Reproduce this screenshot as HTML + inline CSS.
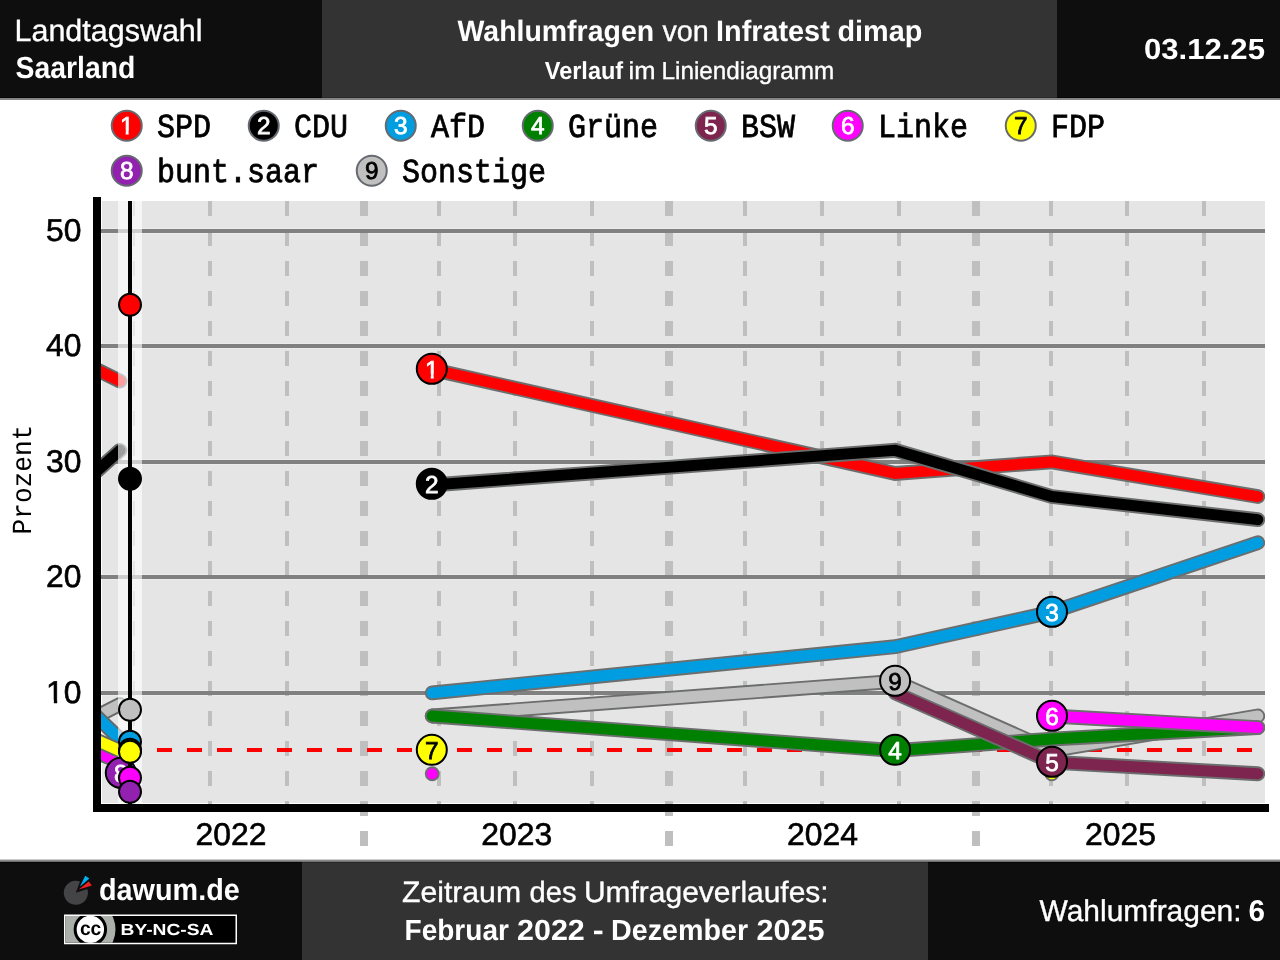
<!DOCTYPE html>
<html lang="de"><head><meta charset="utf-8"><title>Wahlumfragen Saarland - Infratest dimap</title>
<style>
html,body{margin:0;padding:0;background:#fff;width:1280px;height:960px;overflow:hidden;font-family:"Liberation Sans",sans-serif;}
svg{will-change:transform;display:block;position:absolute;left:0;top:0}
svg text{text-rendering:geometricPrecision}
</style></head><body>
<svg width="1280" height="960" viewBox="0 0 1280 960" role="img" aria-label="Wahlumfragen Saarland Infratest dimap Liniendiagramm">
<rect x="0" y="0" width="1280" height="960" fill="#ffffff"/>
<rect x="0" y="0" width="322" height="98" fill="#0e0e0e"/>
<rect x="322" y="0" width="735" height="98" fill="#333333"/>
<rect x="1057" y="0" width="223" height="98" fill="#0e0e0e"/>
<rect x="0" y="97" width="322" height="1" fill="#050505"/>
<rect x="322" y="97" width="735" height="1" fill="#2a2a2a"/>
<rect x="1057" y="97" width="223" height="1" fill="#050505"/>
<rect x="0" y="98" width="1280" height="2" fill="#858585"/>
<rect x="0" y="859" width="1280" height="1" fill="#cdcdcd"/>
<rect x="0" y="860" width="1280" height="1" fill="#8a8a8a"/>
<rect x="0" y="861" width="1280" height="1" fill="#727272"/>
<rect x="0" y="862" width="302" height="98" fill="#0e0e0e"/>
<rect x="302" y="862" width="626" height="98" fill="#333333"/>
<rect x="928" y="862" width="352" height="98" fill="#0e0e0e"/>
<rect x="0" y="862" width="302" height="1" fill="#050505"/>
<rect x="302" y="862" width="626" height="1" fill="#2a2a2a"/>
<rect x="928" y="862" width="352" height="1" fill="#050505"/>
<rect x="102" y="201" width="1163" height="602" fill="#e5e5e5"/>
<rect x="102" y="228" width="1163" height="6" fill="#ebebeb"/>
<rect x="102" y="343" width="1163" height="6" fill="#ebebeb"/>
<rect x="102" y="459" width="1163" height="6" fill="#ebebeb"/>
<rect x="102" y="574" width="1163" height="6" fill="#ebebeb"/>
<rect x="102" y="690" width="1163" height="6" fill="#ebebeb"/>
<line x1="134" y1="201" x2="134" y2="804" stroke="#bfbfbf" stroke-width="2" stroke-dasharray="15 15"/>
<line x1="210" y1="201" x2="210" y2="804" stroke="#bfbfbf" stroke-width="4" stroke-dasharray="15 15"/>
<line x1="287" y1="201" x2="287" y2="804" stroke="#bfbfbf" stroke-width="4" stroke-dasharray="15 15"/>
<line x1="439" y1="201" x2="439" y2="804" stroke="#bfbfbf" stroke-width="4" stroke-dasharray="15 15"/>
<line x1="515" y1="201" x2="515" y2="804" stroke="#bfbfbf" stroke-width="4" stroke-dasharray="15 15"/>
<line x1="592" y1="201" x2="592" y2="804" stroke="#bfbfbf" stroke-width="4" stroke-dasharray="15 15"/>
<line x1="745" y1="201" x2="745" y2="804" stroke="#bfbfbf" stroke-width="4" stroke-dasharray="15 15"/>
<line x1="822" y1="201" x2="822" y2="804" stroke="#bfbfbf" stroke-width="4" stroke-dasharray="15 15"/>
<line x1="899" y1="201" x2="899" y2="804" stroke="#bfbfbf" stroke-width="4" stroke-dasharray="15 15"/>
<line x1="1051" y1="201" x2="1051" y2="804" stroke="#bfbfbf" stroke-width="4" stroke-dasharray="15 15"/>
<line x1="1127" y1="201" x2="1127" y2="804" stroke="#bfbfbf" stroke-width="4" stroke-dasharray="15 15"/>
<line x1="1204" y1="201" x2="1204" y2="804" stroke="#bfbfbf" stroke-width="4" stroke-dasharray="15 15"/>
<line x1="364" y1="201" x2="364" y2="846" stroke="#bfbfbf" stroke-width="8" stroke-dasharray="15 15"/>
<line x1="669" y1="201" x2="669" y2="846" stroke="#bfbfbf" stroke-width="8" stroke-dasharray="15 15"/>
<line x1="976" y1="201" x2="976" y2="846" stroke="#bfbfbf" stroke-width="8" stroke-dasharray="15 15"/>
<rect x="101" y="229" width="1164" height="4" fill="#808080"/>
<rect x="101" y="344" width="1164" height="4" fill="#808080"/>
<rect x="101" y="460" width="1164" height="4" fill="#808080"/>
<rect x="101" y="575" width="1164" height="4" fill="#808080"/>
<rect x="101" y="691" width="1164" height="4" fill="#808080"/>
<line x1="157" y1="750" x2="1265" y2="750" stroke="#ff0000" stroke-width="4" stroke-dasharray="15 15"/>
<defs><clipPath id="cp"><rect x="101" y="201" width="1164" height="603"/></clipPath></defs>
<g clip-path="url(#cp)" fill="none" stroke-linecap="round" stroke-linejoin="miter" stroke-miterlimit="10">
<path d="M60.20 735.00 L120.00 704.45" stroke="#646868" stroke-width="14.8"/>
<path d="M60.20 735.00 L120.00 704.45" stroke="#c0c0c0" stroke-width="11.0"/>
<path d="M432.20 716.00 L895.20 681.35 L1051.80 750.65 L1257.80 716.00" stroke="#6c6e6e" stroke-width="14.8"/>
<path d="M432.20 716.00 L895.20 681.35 L1051.80 750.65 L1257.80 716.00" stroke="#c0c0c0" stroke-width="11.0"/>
<path d="M60.20 352.00 L120.00 381.05" stroke="#646868" stroke-width="14.8"/>
<path d="M60.20 352.00 L120.00 381.05" stroke="#ff0000" stroke-width="11.0"/>
<path d="M432.20 369.50 L895.20 473.45 L1051.80 461.90 L1257.80 496.55" stroke="#6c6e6e" stroke-width="14.8"/>
<path d="M432.20 369.50 L895.20 473.45 L1051.80 461.90 L1257.80 496.55" stroke="#ff0000" stroke-width="11.0"/>
<path d="M60.20 503.70 L120.00 450.35" stroke="#646868" stroke-width="14.8"/>
<path d="M60.20 503.70 L120.00 450.35" stroke="#000000" stroke-width="11.0"/>
<path d="M432.20 485.00 L895.20 450.35 L1051.80 496.55 L1257.80 519.65" stroke="#6c6e6e" stroke-width="14.8"/>
<path d="M432.20 485.00 L895.20 450.35 L1051.80 496.55 L1257.80 519.65" stroke="#000000" stroke-width="11.0"/>
<path d="M60.20 681.30 L120.00 739.10" stroke="#646868" stroke-width="14.8"/>
<path d="M60.20 681.30 L120.00 739.10" stroke="#009ee0" stroke-width="11.0"/>
<path d="M432.20 692.90 L895.20 646.70 L1051.80 612.05 L1257.80 542.75" stroke="#6c6e6e" stroke-width="14.8"/>
<path d="M432.20 692.90 L895.20 646.70 L1051.80 612.05 L1257.80 542.75" stroke="#009ee0" stroke-width="11.0"/>
<path d="M60.20 724.50 L120.00 750.65" stroke="#646868" stroke-width="14.8"/>
<path d="M60.20 724.50 L120.00 750.65" stroke="#008000" stroke-width="11.0"/>
<path d="M432.20 716.00 L895.20 750.65 L1051.80 739.10 L1257.80 727.55" stroke="#6c6e6e" stroke-width="14.8"/>
<path d="M432.20 716.00 L895.20 750.65 L1051.80 739.10 L1257.80 727.55" stroke="#008000" stroke-width="11.0"/>
<path d="M895.20 692.90 L1051.80 762.20 L1257.80 773.75" stroke="#6c6e6e" stroke-width="14.8"/>
<path d="M895.20 692.90 L1051.80 762.20 L1257.80 773.75" stroke="#7d254f" stroke-width="11.0"/>
<path d="M60.20 736.80 L120.00 762.20" stroke="#646868" stroke-width="14.8"/>
<path d="M60.20 736.80 L120.00 762.20" stroke="#ff00ff" stroke-width="11.0"/>
<path d="M432.20 773.75h0.01" stroke="#6c6e6e" stroke-width="14.8"/>
<path d="M432.20 773.75h0.01" stroke="#ff00ff" stroke-width="11.0"/>
<path d="M1051.80 716.00 L1257.80 727.55" stroke="#6c6e6e" stroke-width="14.8"/>
<path d="M1051.80 716.00 L1257.80 727.55" stroke="#ff00ff" stroke-width="11.0"/>
<path d="M60.20 724.20 L120.00 750.65" stroke="#646868" stroke-width="14.8"/>
<path d="M60.20 724.20 L120.00 750.65" stroke="#ffff00" stroke-width="11.0"/>
<path d="M432.20 750.65h0.01" stroke="#6c6e6e" stroke-width="14.8"/>
<path d="M432.20 750.65h0.01" stroke="#ffff00" stroke-width="11.0"/>
<path d="M1051.80 773.75h0.01" stroke="#6c6e6e" stroke-width="14.8"/>
<path d="M1051.80 773.75h0.01" stroke="#ffff00" stroke-width="11.0"/>
<path d="M120.00 773.75h0.01" stroke="#6c6e6e" stroke-width="14.8"/>
<path d="M120.00 773.75h0.01" stroke="#9221b0" stroke-width="11.0"/>
</g>
<rect x="118" y="201" width="24" height="603" fill="#ffffff" fill-opacity="0.615"/>
<circle cx="431.80" cy="368.85" r="15" fill="#ff0000" stroke="#000000" stroke-width="2"/>
<text x="431.80" y="377.55" font-family='"Liberation Sans", sans-serif' font-size="24.4" fill="#fff" stroke="#fff" stroke-width="0.75" text-anchor="middle">1</text>
<rect x="426.00" y="373.85" width="4.75" height="5.1" fill="#ff0000"/>
<rect x="433.70" y="373.85" width="4.6" height="5.1" fill="#ff0000"/>
<circle cx="431.80" cy="483.85" r="15" fill="#000000" stroke="#000000" stroke-width="2"/>
<text x="431.80" y="492.55" font-family='"Liberation Sans", sans-serif' font-size="24.4" fill="#fff" stroke="#fff" stroke-width="0.75" text-anchor="middle">2</text>
<circle cx="1052.00" cy="611.85" r="15" fill="#009ee0" stroke="#000000" stroke-width="2"/>
<text x="1052.00" y="620.55" font-family='"Liberation Sans", sans-serif' font-size="24.4" fill="#fff" stroke="#fff" stroke-width="0.75" text-anchor="middle">3</text>
<circle cx="895.10" cy="749.85" r="15" fill="#008000" stroke="#000000" stroke-width="2"/>
<text x="895.10" y="758.55" font-family='"Liberation Sans", sans-serif' font-size="24.4" fill="#fff" stroke="#fff" stroke-width="0.75" text-anchor="middle">4</text>
<circle cx="1052.00" cy="761.85" r="15" fill="#7d254f" stroke="#000000" stroke-width="2"/>
<text x="1052.00" y="770.55" font-family='"Liberation Sans", sans-serif' font-size="24.4" fill="#fff" stroke="#fff" stroke-width="0.75" text-anchor="middle">5</text>
<circle cx="1052.00" cy="715.85" r="15" fill="#ff00ff" stroke="#000000" stroke-width="2"/>
<text x="1052.00" y="724.55" font-family='"Liberation Sans", sans-serif' font-size="24.4" fill="#fff" stroke="#fff" stroke-width="0.75" text-anchor="middle">6</text>
<circle cx="431.80" cy="749.85" r="15" fill="#ffff00" stroke="#000000" stroke-width="2"/>
<text x="431.80" y="758.55" font-family='"Liberation Sans", sans-serif' font-size="24.4" fill="#000" stroke="#000" stroke-width="0.75" text-anchor="middle">7</text>
<circle cx="120.80" cy="772.85" r="15" fill="#9221b0" stroke="#000000" stroke-width="2"/>
<text x="120.80" y="781.55" font-family='"Liberation Sans", sans-serif' font-size="24.4" fill="#fff" stroke="#fff" stroke-width="0.75" text-anchor="middle">8</text>
<circle cx="895.10" cy="680.85" r="15" fill="#c0c0c0" stroke="#000000" stroke-width="2"/>
<text x="895.10" y="689.55" font-family='"Liberation Sans", sans-serif' font-size="24.4" fill="#000" stroke="#000" stroke-width="0.75" text-anchor="middle">9</text>
<rect x="128" y="201" width="4" height="603" fill="#000000"/>
<circle cx="130" cy="304.85" r="11" fill="#ff0000" stroke="#000" stroke-width="2"/>
<circle cx="130" cy="478.85" r="11" fill="#000000" stroke="#000" stroke-width="2"/>
<circle cx="130" cy="741.85" r="11" fill="#009ee0" stroke="#000" stroke-width="2"/>
<circle cx="130" cy="749.85" r="11" fill="#008000" stroke="#000" stroke-width="2"/>
<circle cx="130" cy="777.85" r="11" fill="#ff00ff" stroke="#000" stroke-width="2"/>
<circle cx="130" cy="751.85" r="11" fill="#ffff00" stroke="#000" stroke-width="2"/>
<circle cx="130" cy="791.85" r="11" fill="#9221b0" stroke="#000" stroke-width="2"/>
<circle cx="130" cy="709.85" r="11" fill="#c0c0c0" stroke="#000" stroke-width="2"/>
<rect x="93" y="197" width="8" height="615" fill="#000"/>
<rect x="93" y="804" width="1176" height="8" fill="#000"/>
<text x="46.1" y="241.4" font-family='"Liberation Sans", sans-serif' font-size="31.4" fill="#000" stroke="#000" stroke-width="0.6" textLength="35.4" lengthAdjust="spacingAndGlyphs">50</text>
<text x="46.1" y="356.4" font-family='"Liberation Sans", sans-serif' font-size="31.4" fill="#000" stroke="#000" stroke-width="0.6" textLength="35.4" lengthAdjust="spacingAndGlyphs">40</text>
<text x="46.1" y="472.4" font-family='"Liberation Sans", sans-serif' font-size="31.4" fill="#000" stroke="#000" stroke-width="0.6" textLength="35.4" lengthAdjust="spacingAndGlyphs">30</text>
<text x="46.1" y="587.4" font-family='"Liberation Sans", sans-serif' font-size="31.4" fill="#000" stroke="#000" stroke-width="0.6" textLength="35.4" lengthAdjust="spacingAndGlyphs">20</text>
<text x="46.1" y="703.4" font-family='"Liberation Sans", sans-serif' font-size="31.4" fill="#000" stroke="#000" stroke-width="0.6" textLength="35.4" lengthAdjust="spacingAndGlyphs">10</text>
<rect x="47.5" y="699.7" width="6.35" height="4.5" fill="#fff"/><rect x="57.2" y="699.7" width="6" height="4.5" fill="#fff"/>
<text x="195.50" y="845.2" font-family='"Liberation Sans", sans-serif' font-size="31.4" fill="#000" stroke="#000" stroke-width="0.6" textLength="71" lengthAdjust="spacingAndGlyphs">2022</text>
<text x="481.30" y="845.2" font-family='"Liberation Sans", sans-serif' font-size="31.4" fill="#000" stroke="#000" stroke-width="0.6" textLength="71" lengthAdjust="spacingAndGlyphs">2023</text>
<text x="787.00" y="845.2" font-family='"Liberation Sans", sans-serif' font-size="31.4" fill="#000" stroke="#000" stroke-width="0.6" textLength="71" lengthAdjust="spacingAndGlyphs">2024</text>
<text x="1085.10" y="845.2" font-family='"Liberation Sans", sans-serif' font-size="31.4" fill="#000" stroke="#000" stroke-width="0.6" textLength="71" lengthAdjust="spacingAndGlyphs">2025</text>
<text transform="translate(30.8 534.4) rotate(-90)" font-family='"Liberation Mono", monospace' font-size="27.6" fill="#000" textLength="109.7" lengthAdjust="spacingAndGlyphs">Prozent</text>
<circle cx="126.75" cy="125.75" r="15" fill="#ff0000" stroke="#666a70" stroke-width="2"/>
<text x="126.75" y="134.45" font-family='"Liberation Sans", sans-serif' font-size="24.4" fill="#fff" stroke="#fff" stroke-width="0.75" text-anchor="middle">1</text>
<rect x="120.95" y="130.75" width="4.75" height="5.1" fill="#ff0000"/>
<rect x="128.65" y="130.75" width="4.6" height="5.1" fill="#ff0000"/>
<text x="156.95" y="136.95" font-family='"Liberation Mono", monospace' font-size="33.6" fill="#000" stroke="#000" stroke-width="0.8" textLength="54" lengthAdjust="spacingAndGlyphs">SPD</text>
<circle cx="263.75" cy="125.75" r="15" fill="#000000" stroke="#666a70" stroke-width="2"/>
<text x="263.75" y="134.45" font-family='"Liberation Sans", sans-serif' font-size="24.4" fill="#fff" stroke="#fff" stroke-width="0.75" text-anchor="middle">2</text>
<text x="293.95" y="136.95" font-family='"Liberation Mono", monospace' font-size="33.6" fill="#000" stroke="#000" stroke-width="0.8" textLength="54" lengthAdjust="spacingAndGlyphs">CDU</text>
<circle cx="400.75" cy="125.75" r="15" fill="#009ee0" stroke="#666a70" stroke-width="2"/>
<text x="400.75" y="134.45" font-family='"Liberation Sans", sans-serif' font-size="24.4" fill="#fff" stroke="#fff" stroke-width="0.75" text-anchor="middle">3</text>
<text x="430.95" y="136.95" font-family='"Liberation Mono", monospace' font-size="33.6" fill="#000" stroke="#000" stroke-width="0.8" textLength="54" lengthAdjust="spacingAndGlyphs">AfD</text>
<circle cx="537.75" cy="125.75" r="15" fill="#008000" stroke="#666a70" stroke-width="2"/>
<text x="537.75" y="134.45" font-family='"Liberation Sans", sans-serif' font-size="24.4" fill="#fff" stroke="#fff" stroke-width="0.75" text-anchor="middle">4</text>
<text x="567.95" y="136.95" font-family='"Liberation Mono", monospace' font-size="33.6" fill="#000" stroke="#000" stroke-width="0.8" textLength="90" lengthAdjust="spacingAndGlyphs">Grüne</text>
<circle cx="710.75" cy="125.75" r="15" fill="#7d254f" stroke="#666a70" stroke-width="2"/>
<text x="710.75" y="134.45" font-family='"Liberation Sans", sans-serif' font-size="24.4" fill="#fff" stroke="#fff" stroke-width="0.75" text-anchor="middle">5</text>
<text x="740.95" y="136.95" font-family='"Liberation Mono", monospace' font-size="33.6" fill="#000" stroke="#000" stroke-width="0.8" textLength="54" lengthAdjust="spacingAndGlyphs">BSW</text>
<circle cx="847.75" cy="125.75" r="15" fill="#ff00ff" stroke="#666a70" stroke-width="2"/>
<text x="847.75" y="134.45" font-family='"Liberation Sans", sans-serif' font-size="24.4" fill="#fff" stroke="#fff" stroke-width="0.75" text-anchor="middle">6</text>
<text x="877.95" y="136.95" font-family='"Liberation Mono", monospace' font-size="33.6" fill="#000" stroke="#000" stroke-width="0.8" textLength="90" lengthAdjust="spacingAndGlyphs">Linke</text>
<circle cx="1020.75" cy="125.75" r="15" fill="#ffff00" stroke="#666a70" stroke-width="2"/>
<text x="1020.75" y="134.45" font-family='"Liberation Sans", sans-serif' font-size="24.4" fill="#000" stroke="#000" stroke-width="0.75" text-anchor="middle">7</text>
<text x="1050.95" y="136.95" font-family='"Liberation Mono", monospace' font-size="33.6" fill="#000" stroke="#000" stroke-width="0.8" textLength="54" lengthAdjust="spacingAndGlyphs">FDP</text>
<circle cx="126.75" cy="170.75" r="15" fill="#9221b0" stroke="#666a70" stroke-width="2"/>
<text x="126.75" y="179.45" font-family='"Liberation Sans", sans-serif' font-size="24.4" fill="#fff" stroke="#fff" stroke-width="0.75" text-anchor="middle">8</text>
<text x="156.95" y="181.95" font-family='"Liberation Mono", monospace' font-size="33.6" fill="#000" stroke="#000" stroke-width="0.8" textLength="162" lengthAdjust="spacingAndGlyphs">bunt.saar</text>
<circle cx="371.75" cy="170.75" r="15" fill="#c0c0c0" stroke="#666a70" stroke-width="2"/>
<text x="371.75" y="179.45" font-family='"Liberation Sans", sans-serif' font-size="24.4" fill="#000" stroke="#000" stroke-width="0.75" text-anchor="middle">9</text>
<text x="401.95" y="181.95" font-family='"Liberation Mono", monospace' font-size="33.6" fill="#000" stroke="#000" stroke-width="0.8" textLength="144" lengthAdjust="spacingAndGlyphs">Sonstige</text>
<text y="41" font-family='"Liberation Sans", sans-serif' fill="#fff"><tspan id="h1" x="14.53" font-size="30.8" font-weight="normal" stroke="#fff" stroke-width="0.35" textLength="188.02" lengthAdjust="spacingAndGlyphs">Landtagswahl</tspan></text>
<text y="78" font-family='"Liberation Sans", sans-serif' fill="#fff"><tspan id="h2" x="15.54" font-size="30.6" font-weight="bold" textLength="119.81" lengthAdjust="spacingAndGlyphs">Saarland</tspan></text>
<text y="41" font-family='"Liberation Sans", sans-serif' fill="#fff"><tspan id="t1a" x="457.49" font-size="29.5" font-weight="bold" textLength="196.64" lengthAdjust="spacingAndGlyphs">Wahlumfragen</tspan> <tspan id="t1b" x="662.48" font-size="29.5" font-weight="normal" stroke="#fff" stroke-width="0.35" textLength="46.37" lengthAdjust="spacingAndGlyphs">von</tspan> <tspan id="t1c" x="716.03" font-size="29.5" font-weight="bold" textLength="113.73" lengthAdjust="spacingAndGlyphs">Infratest</tspan> <tspan id="t1d" x="837.51" font-size="29.5" font-weight="bold" textLength="84.82" lengthAdjust="spacingAndGlyphs">dimap</tspan></text>
<text y="79" font-family='"Liberation Sans", sans-serif' fill="#fff"><tspan id="t2a" x="544.76" font-size="24.6" font-weight="bold" textLength="78.40" lengthAdjust="spacingAndGlyphs">Verlauf</tspan> <tspan id="t2b" x="628.48" font-size="24.6" font-weight="normal" stroke="#fff" stroke-width="0.35" textLength="26.94" lengthAdjust="spacingAndGlyphs">im</tspan> <tspan id="t2c" x="661.53" font-size="24.6" font-weight="normal" stroke="#fff" stroke-width="0.35" textLength="172.75" lengthAdjust="spacingAndGlyphs">Liniendiagramm</tspan></text>
<text y="59" font-family='"Liberation Sans", sans-serif' fill="#fff"><tspan id="d" x="1143.93" font-size="29.0" font-weight="bold" textLength="121.03" lengthAdjust="spacingAndGlyphs">03.12.25</tspan></text>
<text y="900" font-family='"Liberation Sans", sans-serif' fill="#fff"><tspan id="f0" x="99.05" font-size="30.5" font-weight="bold" textLength="140.67" lengthAdjust="spacingAndGlyphs">dawum.de</tspan></text>
<text y="902" font-family='"Liberation Sans", sans-serif' fill="#fff"><tspan id="f1a" x="401.98" font-size="29.5" font-weight="normal" stroke="#fff" stroke-width="0.35" textLength="119.05" lengthAdjust="spacingAndGlyphs">Zeitraum</tspan> <tspan id="f1b" x="529.50" font-size="29.5" font-weight="normal" stroke="#fff" stroke-width="0.35" textLength="46.96" lengthAdjust="spacingAndGlyphs">des</tspan> <tspan id="f1c" x="583.97" font-size="29.5" font-weight="normal" stroke="#fff" stroke-width="0.35" textLength="244.68" lengthAdjust="spacingAndGlyphs">Umfrageverlaufes:</tspan></text>
<text y="940" font-family='"Liberation Sans", sans-serif' fill="#fff"><tspan id="f2a" x="404.56" font-size="29.2" font-weight="bold" textLength="104.35" lengthAdjust="spacingAndGlyphs">Februar</tspan> <tspan id="f2b" x="516.97" font-size="29.2" font-weight="bold" textLength="67.84" lengthAdjust="spacingAndGlyphs">2022</tspan> <tspan id="f2c" x="592.88" font-size="29.2" font-weight="bold" textLength="10.95" lengthAdjust="spacingAndGlyphs">-</tspan> <tspan id="f2d" x="611.03" font-size="29.2" font-weight="bold" textLength="137.08" lengthAdjust="spacingAndGlyphs">Dezember</tspan> <tspan id="f2e" x="756.46" font-size="29.2" font-weight="bold" textLength="67.98" lengthAdjust="spacingAndGlyphs">2025</tspan></text>
<text y="921" font-family='"Liberation Sans", sans-serif' fill="#fff"><tspan id="f3a" x="1039.50" font-size="30.0" font-weight="normal" stroke="#fff" stroke-width="0.35" textLength="202.12" lengthAdjust="spacingAndGlyphs">Wahlumfragen:</tspan> <tspan id="f3b" x="1248.52" font-size="30.0" font-weight="bold" textLength="16.48" lengthAdjust="spacingAndGlyphs">6</tspan></text>
<g>
<path d="M75.85 892.75 L87.36 889.01 A12.1 12.1 0 1 1 79.99 881.38 Z" fill="#444446"/>
<path d="M79.98 886.6 L85.25 875.8 L89.4 878.5 Z" fill="#00b0f0"/>
<path d="M78.8 889.5 L88.7 881.5 L91.9 885.4 Z" fill="#f02020"/>
</g>
<g>
<rect x="64.75" y="915.25" width="171.5" height="28.25" fill="#000" stroke="#fff" stroke-width="1.5"/>
<defs><clipPath id="cc"><rect x="65.5" y="916" width="170" height="26.75"/></clipPath></defs>
<g clip-path="url(#cc)">
<circle cx="86" cy="929.4" r="29.5" fill="#abb1aa"/>
<circle cx="90.35" cy="929.4" r="15.2" fill="#fff" stroke="#000" stroke-width="3"/>
</g>
<text x="79.9" y="935.2" font-family='"Liberation Sans", sans-serif' font-size="19.5" font-weight="bold" fill="#000" textLength="21.4" lengthAdjust="spacingAndGlyphs">cc</text>
<text x="120.5" y="935.4" font-family='"Liberation Sans", sans-serif' font-size="16" font-weight="bold" fill="#fff" textLength="93" lengthAdjust="spacingAndGlyphs">BY-NC-SA</text>
</g>
</svg>
</body></html>
